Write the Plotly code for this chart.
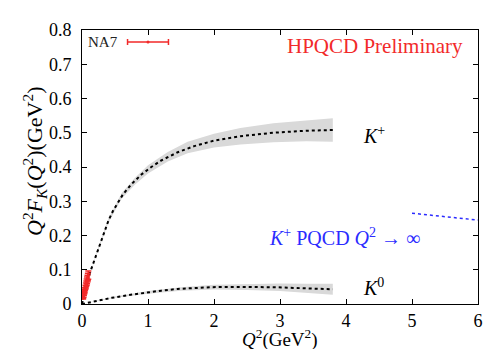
import plotly.graph_objects as go

# ---------------- data ----------------
# K+ central curve (Q^2 in GeV^2, Q^2 F_K in GeV^2)
kp_q = [0, 0.05, 0.1, 0.14, 0.2, 0.25, 0.32, 0.4, 0.47, 0.55, 0.62, 0.75, 0.9,
        1.05, 1.2, 1.45, 1.7, 2.0, 2.4, 2.9, 3.4, 3.8]
kp_v = [0, 0.042, 0.078, 0.102, 0.136, 0.164, 0.203, 0.243, 0.272, 0.300, 0.320,
        0.350, 0.378, 0.400, 0.419, 0.443, 0.461, 0.477, 0.490, 0.500, 0.506, 0.508]
# K+ error band
kp_bq = [0, 0.2, 0.4, 0.6, 0.8, 1.0, 1.3, 1.6, 2.0, 2.4, 2.9, 3.4, 3.8]
kp_lo = [0, 0.133, 0.237, 0.307, 0.348, 0.381, 0.416, 0.440, 0.457, 0.466, 0.472, 0.475, 0.474]
kp_hi = [0, 0.139, 0.249, 0.323, 0.368, 0.405, 0.444, 0.474, 0.497, 0.514, 0.528, 0.537, 0.542]

# K0 central curve
k0_q = [0, 0.1, 0.2, 0.45, 0.7, 0.95, 1.2, 1.45, 1.7, 1.95, 2.2, 2.45, 2.7,
        2.95, 3.2, 3.45, 3.8]
k0_v = [0, 0.004, 0.009, 0.018, 0.026, 0.033, 0.039, 0.044, 0.047, 0.049, 0.050,
        0.050, 0.050, 0.049, 0.047, 0.045, 0.043]
# K0 error band
k0_bq = [0, 0.5, 1.0, 1.5, 2.0, 2.5, 3.0, 3.4, 3.8]
k0_lo = [0, 0.018, 0.030, 0.039, 0.042, 0.041, 0.038, 0.033, 0.027]
k0_hi = [0, 0.022, 0.038, 0.049, 0.056, 0.059, 0.060, 0.059, 0.059]

# NA7 experimental data
na7_q = [0.017, 0.023, 0.029, 0.035, 0.041, 0.047, 0.053, 0.059, 0.065, 0.071,
         0.077, 0.083, 0.089, 0.095]
na7_v = [0.0165, 0.022, 0.0275, 0.033, 0.038, 0.0435, 0.049, 0.054, 0.059, 0.064,
         0.069, 0.074, 0.079, 0.084]
na7_e = [0.002, 0.003, 0.003, 0.004, 0.005, 0.005, 0.006, 0.007, 0.008, 0.009,
         0.010, 0.010, 0.011, 0.012]

# NA7 legend key (position of the key sample)
key_q, key_v, key_err = [1.0], [0.765], [0.31]

# K+ PQCD asymptotic line
pqcd_q = [5.0, 6.0]
pqcd_v = [0.265, 0.245]

x_ticks = [0, 1, 2, 3, 4, 5, 6]
y_ticks = [0, 0.1, 0.2, 0.3, 0.4, 0.5, 0.6, 0.7, 0.8]
y_tick_text = ["0", "0.1", "0.2", "0.3", "0.4", "0.5", "0.6", "0.7", "0.8"]

# ---------------- figure ----------------
FONT = "Liberation Serif"
BAND = "#d9d9d9"
RED = "#f22a2a"
BLUE = "#2b2bff"

fig = go.Figure()

for bq, lo, hi in [(kp_bq, kp_lo, kp_hi), (k0_bq, k0_lo, k0_hi)]:
    fig.add_trace(go.Scatter(x=bq + bq[::-1], y=hi + lo[::-1], fill="toself",
                             fillcolor=BAND, line=dict(width=0), mode="lines",
                             hoverinfo="skip", showlegend=False))

for q, v in [(kp_q, kp_v), (k0_q, k0_v)]:
    fig.add_trace(go.Scatter(x=q, y=v, mode="lines",
                             line=dict(color="black", width=2, dash="3px,3px"),
                             showlegend=False))

fig.add_trace(go.Scatter(x=na7_q, y=na7_v, mode="markers",
                         marker=dict(color=RED, size=3),
                         error_y=dict(type="data", array=na7_e, color=RED,
                                      thickness=1.5, width=3),
                         showlegend=False))

fig.add_trace(go.Scatter(x=key_q, y=key_v, mode="markers",
                         marker=dict(color=RED, size=3),
                         error_x=dict(type="data", array=key_err, color=RED,
                                      thickness=1.5, width=3),
                         showlegend=False))

fig.add_trace(go.Scatter(x=pqcd_q, y=pqcd_v, mode="lines",
                         line=dict(color=BLUE, width=1.5, dash="3px,3px"),
                         showlegend=False))

annots = [
    dict(x=0.32, y=0.765, text="NA7", font=dict(size=15, color="#222")),
    dict(x=5.81, y=0.753, text="HPQCD Preliminary", xanchor="right",
         font=dict(size=21, color=RED)),
    dict(x=4.42, y=0.493, text="<i>K</i><sup>+</sup>", font=dict(size=20, color="black")),
    dict(x=4.42, y=0.05, text="<i>K</i><sup>0</sup>", font=dict(size=20, color="black")),
    dict(x=3.97, y=0.196, text="<i>K</i><sup>+</sup> PQCD <i>Q</i><sup>2</sup> → ∞",
         font=dict(size=20, color=BLUE)),
]
for a in annots:
    a.setdefault("xanchor", "center")
    a["font"]["family"] = FONT
    fig.add_annotation(xref="x", yref="y", showarrow=False, yanchor="middle", **a)

# axis titles placed as annotations (paper coords)
fig.add_annotation(xref="paper", yref="paper", x=0.5, y=-0.126, yanchor="middle",
                   xanchor="center", showarrow=False,
                   text="<i>Q</i><sup>2</sup>(GeV<sup>2</sup>)",
                   font=dict(family=FONT, size=19, color="black"))
fig.add_annotation(xref="paper", yref="paper", x=-0.12, y=0.52, yanchor="middle",
                   xanchor="center", showarrow=False, textangle=-90,
                   text="<i>Q</i><sup>2</sup><i>F</i><sub><i>K</i></sub>(<i>Q</i><sup>2</sup>)(GeV<sup>2</sup>)",
                   font=dict(family=FONT, size=22, color="black"))

axis_common = dict(showgrid=False, zeroline=False, showline=True, linecolor="black",
                   linewidth=1, mirror="ticks", ticks="inside", ticklen=5,
                   tickcolor="black", tickfont=dict(family=FONT, size=18, color="black"))

fig.update_xaxes(range=[0, 6], tickvals=x_ticks, **axis_common)
fig.update_yaxes(range=[0, 0.8], tickvals=y_ticks, ticktext=y_tick_text,
                 ticklabelstandoff=6, **axis_common)

fig.update_layout(width=498, height=349, margin=dict(l=74, r=28, t=18, b=53),
                  plot_bgcolor="white", paper_bgcolor="white",
                  font=dict(family=FONT))

fig.write_html("out.html")
